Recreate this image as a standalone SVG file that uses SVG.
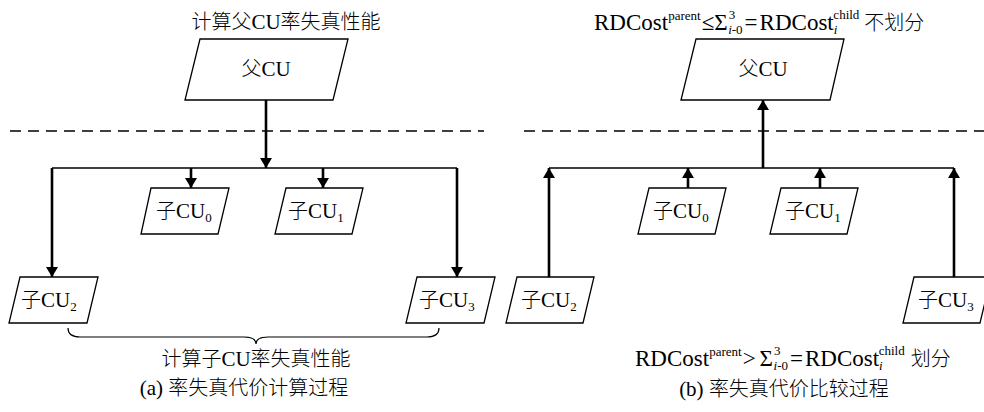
<svg xmlns="http://www.w3.org/2000/svg" width="984" height="412" viewBox="0 0 984 412">
<defs>
<marker id="ah" viewBox="0 0 10 12" refX="10" refY="6" markerWidth="10" markerHeight="12" markerUnits="userSpaceOnUse" orient="auto">
<path d="M0,0 L10,6 L0,12 Z" fill="#000"/>
</marker>
<style>
.t{font-family:"Liberation Serif",serif;font-size:21px;fill:#000}
.f{font-size:23px}
.c{font-family:"Noto Sans CJK SC","Noto Sans CJK TC",sans-serif;font-size:20px;font-weight:300}
.s{font-size:13px}
.i{font-style:italic}
.box{fill:#fff;stroke:#000;stroke-width:1.3}
.arr{stroke:#000;stroke-width:2.6;fill:none;marker-end:url(#ah)}
.hl{stroke:#000;stroke-width:1.5;fill:none}
.dash{stroke:#000;stroke-width:1.3;stroke-dasharray:11 7;fill:none}
</style>
</defs>
<rect width="984" height="412" fill="#fff"/>

<g id="connectors">
<line class="dash" x1="10" y1="131" x2="484" y2="131"/>
<line class="dash" x1="524" y1="131" x2="984" y2="131"/>
<line class="hl" x1="52" y1="168" x2="457" y2="168"/>
<line class="arr" x1="266" y1="100" x2="266" y2="168"/>
<line class="arr" x1="191" y1="168" x2="191" y2="188"/>
<line class="arr" x1="323" y1="168" x2="323" y2="188"/>
<line class="arr" x1="52" y1="168" x2="52" y2="277"/>
<line class="arr" x1="457" y1="168" x2="457" y2="277"/>
<path class="hl" style="stroke-width:1.2" d="M68,328 Q68,337 80,337 L244,337 Q256,337 256,344 Q256,337 268,337 L427,337 Q439,337 439,328"/>
<line class="hl" x1="549" y1="168" x2="954" y2="168"/>
<line class="arr" x1="763" y1="168" x2="763" y2="100"/>
<line class="arr" x1="549" y1="277" x2="549" y2="168"/>
<line class="arr" x1="688" y1="188" x2="688" y2="168"/>
<line class="arr" x1="820" y1="188" x2="820" y2="168"/>
<line class="arr" x1="954" y1="277" x2="954" y2="168"/>
</g>

<g id="a-parent">
<polygon class="box" points="200,39 348,39 333,100 185,100"/>
<text class="t" x="266" y="76" text-anchor="middle"><tspan class="c">父</tspan>CU</text>
</g>
<g id="a-cu0">
<polygon class="box" points="151,188 229,188 218,234 141,234"/>
<text class="t" x="156" y="218"><tspan class="c">子</tspan>CU<tspan class="s" dy="4">0</tspan></text>
</g>
<g id="a-cu1">
<polygon class="box" points="286,188 363,188 352,234 275,234"/>
<text class="t" x="288" y="218"><tspan class="c">子</tspan>CU<tspan class="s" dy="4">1</tspan></text>
</g>
<g id="a-cu2">
<polygon class="box" points="20,277 98,277 87,323 9,323"/>
<text class="t" x="21" y="307"><tspan class="c">子</tspan>CU<tspan class="s" dy="4">2</tspan></text>
</g>
<g id="a-cu3">
<polygon class="box" points="417,277 495,277 484,323 406,323"/>
<text class="t" x="419" y="307"><tspan class="c">子</tspan>CU<tspan class="s" dy="4">3</tspan></text>
</g>
<g id="a-labels">
<text class="t" x="286" y="29" text-anchor="middle"><tspan class="c">计算父</tspan>CU<tspan class="c">率失真性能</tspan></text>
<text class="t" x="256" y="366" text-anchor="middle"><tspan class="c">计算子</tspan>CU<tspan class="c">率失真性能</tspan></text>
<text class="t" x="244" y="395" text-anchor="middle">(a) <tspan class="c">率失真代价计算过程</tspan></text>
</g>

<g id="b-parent">
<polygon class="box" points="696,39 844,39 830,100 681,100"/>
<text class="t" x="763" y="76" text-anchor="middle"><tspan class="c">父</tspan>CU</text>
</g>
<g id="b-cu0">
<polygon class="box" points="649,188 726,188 715,234 638,234"/>
<text class="t" x="653" y="218"><tspan class="c">子</tspan>CU<tspan class="s" dy="4">0</tspan></text>
</g>
<g id="b-cu1">
<polygon class="box" points="781,188 858,188 847,234 770,234"/>
<text class="t" x="785" y="218"><tspan class="c">子</tspan>CU<tspan class="s" dy="4">1</tspan></text>
</g>
<g id="b-cu2">
<polygon class="box" points="517,277 594,277 583,323 506,323"/>
<text class="t" x="521" y="307"><tspan class="c">子</tspan>CU<tspan class="s" dy="4">2</tspan></text>
</g>
<g id="b-cu3">
<polygon class="box" points="914,277 991,277 980,323 903,323"/>
<text class="t" x="918" y="307"><tspan class="c">子</tspan>CU<tspan class="s" dy="4">3</tspan></text>
</g>
<g id="b-labels">
<text class="t f" x="594" y="30">RDCost<tspan class="s" dy="-10">parent</tspan><tspan dx="1" dy="10">≤Σ</tspan><tspan class="s" dx="1" dy="-11">3</tspan><tspan class="s i" dx="-7" dy="15">i</tspan><tspan class="s">-0</tspan><tspan dx="2" dy="-4">=</tspan><tspan dx="2">RDCost</tspan><tspan class="s i" dy="4">i</tspan><tspan class="s" dx="-4" dy="-15">child</tspan><tspan class="c" dx="5" dy="11">不划分</tspan></text>
<text class="t f" x="635" y="366">RDCost<tspan class="s" dy="-10">parent</tspan><tspan dx="1" dy="10">&gt;</tspan><tspan dx="4">Σ</tspan><tspan class="s" dx="1" dy="-11">3</tspan><tspan class="s i" dx="-7" dy="15">i</tspan><tspan class="s">-0</tspan><tspan dx="2" dy="-4">=</tspan><tspan dx="2">RDCost</tspan><tspan class="s i" dy="4">i</tspan><tspan class="s" dx="-4" dy="-15">child</tspan><tspan class="c" dx="6" dy="11">划分</tspan></text>
<text class="t" x="784" y="396" text-anchor="middle">(b) <tspan class="c">率失真代价比较过程</tspan></text>
</g>
</svg>
